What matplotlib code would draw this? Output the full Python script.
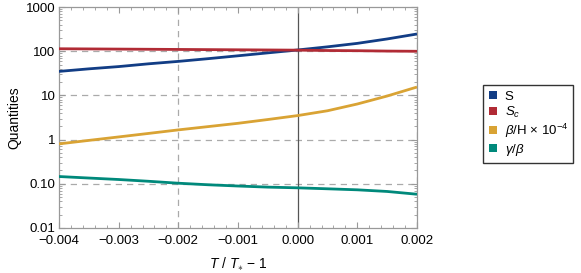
import matplotlib
matplotlib.use("Agg")
import matplotlib.pyplot as plt
import numpy as np
from matplotlib.patches import Patch
from matplotlib.ticker import FixedLocator, MultipleLocator, LogLocator, NullFormatter

plt.rcParams['font.family'] = ['Liberation Sans', 'DejaVu Sans']
plt.rcParams['mathtext.fontset'] = 'custom'
plt.rcParams['mathtext.rm'] = 'Liberation Sans'
plt.rcParams['mathtext.it'] = 'Liberation Sans:italic'
plt.rcParams['mathtext.bf'] = 'Liberation Sans:bold'

x = [-0.004, -0.0035, -0.003, -0.0025, -0.002, -0.0015, -0.001, -0.0005,
     0.0, 0.0005, 0.001, 0.0015, 0.002]
S = [35, 40, 45, 52, 59, 68, 79, 92, 107, 126, 151, 190, 246]
Sc = [114, 113, 112, 111, 110, 109, 108, 107, 106, 104, 103, 101, 100]
betaH = [0.80, 0.96, 1.15, 1.38, 1.66, 1.97, 2.34, 2.85, 3.5, 4.5, 6.4, 9.7, 15.5]
gammab = [0.146, 0.135, 0.125, 0.114, 0.103, 0.095, 0.089, 0.084, 0.081,
          0.077, 0.073, 0.067, 0.058]

labels = ["S", r"$S_c$", r"$\beta$/H × 10$^{-4}$", r"$\gamma/\beta$"]
colors = ["#123d85", "#b12b35", "#d9a334", "#00897b"]

xticks = [-0.004, -0.003, -0.002, -0.001, 0.0, 0.001, 0.002]
xticklabels = ["\u22120.004", "\u22120.003", "\u22120.002", "\u22120.001", "0.000", "0.001", "0.002"]
yticks = [0.01, 0.1, 1, 10, 100, 1000]
yticklabels = ["0.01", "0.10", "1", "10", "100", "1000"]

fig = plt.figure(figsize=(5.81, 2.73), dpi=100)
ax = fig.add_axes([0.1015, 0.165, 0.6162, 0.809])

for xv in [-0.002, 0.002]:
    ax.axvline(xv, color="#aaaaaa", lw=0.9, ls=(0, (5, 4)), zorder=1)
for yv in [0.1, 1, 10, 100]:
    ax.axhline(yv, color="#aaaaaa", lw=0.9, ls=(0, (5, 4)), zorder=1)
ax.axvline(0.0, color="#555555", lw=0.9, zorder=1)

for ys, c in zip([S, Sc, betaH, gammab], colors):
    ax.plot(x, ys, color=c, lw=2.0, zorder=3, solid_capstyle='butt')

ax.set_yscale('log')
ax.set_xlim(-0.004, 0.002)
ax.set_ylim(0.01, 1000)
ax.xaxis.set_major_locator(FixedLocator(xticks))
ax.set_xticklabels(xticklabels)
ax.xaxis.set_minor_locator(MultipleLocator(0.0002))
ax.yaxis.set_major_locator(FixedLocator(yticks))
ax.set_yticklabels(yticklabels)
ax.yaxis.set_minor_locator(LogLocator(base=10, subs=np.arange(2, 10)))
ax.yaxis.set_minor_formatter(NullFormatter())

ax.tick_params(which='both', direction='in', top=True, right=True, color="#999999",
               labelsize=9.5, labelcolor='black')
ax.tick_params(axis='x', which='major', pad=5)
ax.tick_params(axis='y', which='major', pad=2.5)
ax.tick_params(which='major', length=4, width=0.8)
ax.tick_params(which='minor', length=2, width=0.6)
for sp in ax.spines.values():
    sp.set_color("#999999")
    sp.set_linewidth(0.9)

ax.set_xlabel(r"$T$ / $T_{\ast}$ $-$ 1", fontsize=10, labelpad=6)
ax.set_ylabel("Quantities", fontsize=10, labelpad=3)

handles = [Patch(facecolor=c, edgecolor='none') for c in colors]
leg = fig.legend(handles, labels, loc='center left', bbox_to_anchor=(0.832, 0.545),
                 frameon=True, fancybox=False, fontsize=9.5, handlelength=0.6,
                 handleheight=0.6, handletextpad=0.6, borderpad=0.4, labelspacing=0.15,
                 borderaxespad=0)
leg.get_frame().set_edgecolor('black')
leg.get_frame().set_linewidth(1.0)

fig.savefig("out.png", dpi=100)
